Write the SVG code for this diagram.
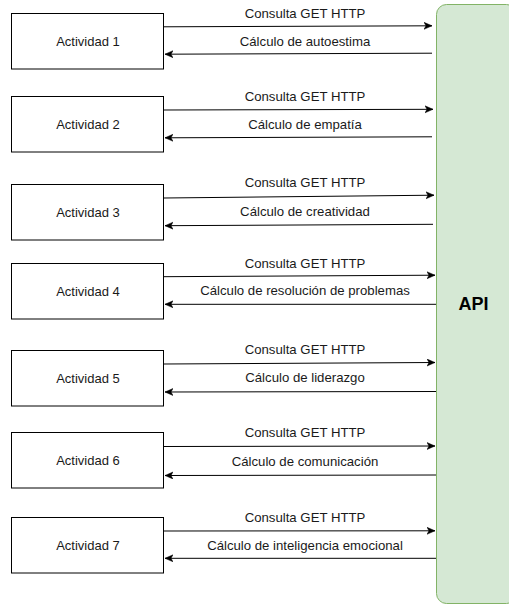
<svg xmlns="http://www.w3.org/2000/svg" width="509" height="606" viewBox="0 0 509 606">
<style>
.box{fill:#ffffff;stroke:#000000;stroke-width:1}
.api{fill:#d5e8d4;stroke:#82b366;stroke-width:1}
.t{font-family:"Liberation Sans",Arial,sans-serif;font-size:13px;fill:#1a1a1a;text-anchor:middle}
.lbl{font-family:"Liberation Sans",Arial,sans-serif;font-size:13.2px;fill:#1a1a1a;text-anchor:middle}
.big{font-family:"Liberation Sans",Arial,sans-serif;font-size:18px;font-weight:bold;fill:#000000;text-anchor:middle}
.c{fill:none;stroke:#000000;stroke-width:1}
</style>
<defs>
<marker id="arr" markerUnits="userSpaceOnUse" markerWidth="10" markerHeight="10" refX="8" refY="4" orient="auto">
<path d="M0,0.5 L8,4 L0,7.5 L2,4 Z" fill="#000000" stroke="#000000" stroke-width="0.5"/>
</marker>
</defs>
<g id="api">
<rect class="api" x="436.5" y="4.5" width="80" height="599" rx="10" ry="10"/>
<text class="big" x="473.5" y="309.5">API</text>
</g>
<g id="act1"><rect class="box" x="11.5" y="13.5" width="152" height="55.5"/><text class="t" x="88" y="45.5">Actividad 1</text></g>
<g id="act2"><rect class="box" x="11.5" y="96.5" width="152" height="55.5"/><text class="t" x="88" y="128.5">Actividad 2</text></g>
<g id="act3"><rect class="box" x="11.5" y="184.5" width="152" height="55.5"/><text class="t" x="88" y="216.5">Actividad 3</text></g>
<g id="act4"><rect class="box" x="11.5" y="263.5" width="152" height="55.5"/><text class="t" x="88" y="295.5">Actividad 4</text></g>
<g id="act5"><rect class="box" x="11.5" y="350.5" width="152" height="55.5"/><text class="t" x="88" y="382.5">Actividad 5</text></g>
<g id="act6"><rect class="box" x="11.5" y="432.5" width="152" height="55.5"/><text class="t" x="88" y="464.5">Actividad 6</text></g>
<g id="act7"><rect class="box" x="11.5" y="517.5" width="152" height="55.5"/><text class="t" x="88" y="549.5">Actividad 7</text></g>
<g id="connectors">
<path class="c" d="M164,26.8 L432,25.8" marker-end="url(#arr)"/>
<path class="c" d="M432,53.2 L165,54.2" marker-end="url(#arr)"/>
<path class="c" d="M164,110 L433,109.3" marker-end="url(#arr)"/>
<path class="c" d="M432,136.8 L165,137.8" marker-end="url(#arr)"/>
<path class="c" d="M164,198 L434,195.2" marker-end="url(#arr)"/>
<path class="c" d="M433,224.3 L165,225.7" marker-end="url(#arr)"/>
<path class="c" d="M164,276.7 L435,275.2" marker-end="url(#arr)"/>
<path class="c" d="M436,304.3 L165,304.3" marker-end="url(#arr)"/>
<path class="c" d="M164,364 L435,362.5" marker-end="url(#arr)"/>
<path class="c" d="M436,391.5 L165,392" marker-end="url(#arr)"/>
<path class="c" d="M164,446.5 L435,446" marker-end="url(#arr)"/>
<path class="c" d="M436,475 L165,475.5" marker-end="url(#arr)"/>
<path class="c" d="M164,531 L435,530.8" marker-end="url(#arr)"/>
<path class="c" d="M436,558.3 L165,558.3" marker-end="url(#arr)"/>
<text class="lbl" x="305" y="18">Consulta GET HTTP</text>
<text class="lbl" x="305" y="46">Cálculo de autoestima</text>
<text class="lbl" x="305" y="101">Consulta GET HTTP</text>
<text class="lbl" x="305" y="129">Cálculo de empatía</text>
<text class="lbl" x="305" y="187">Consulta GET HTTP</text>
<text class="lbl" x="305" y="216">Cálculo de creatividad</text>
<text class="lbl" x="305" y="267.5">Consulta GET HTTP</text>
<text class="lbl" x="305" y="295">Cálculo de resolución de problemas</text>
<text class="lbl" x="305" y="354">Consulta GET HTTP</text>
<text class="lbl" x="305" y="382">Cálculo de liderazgo</text>
<text class="lbl" x="305" y="437">Consulta GET HTTP</text>
<text class="lbl" x="305" y="466">Cálculo de comunicación</text>
<text class="lbl" x="305" y="522">Consulta GET HTTP</text>
<text class="lbl" x="305" y="549.5">Cálculo de inteligencia emocional</text>
</g>
</svg>
